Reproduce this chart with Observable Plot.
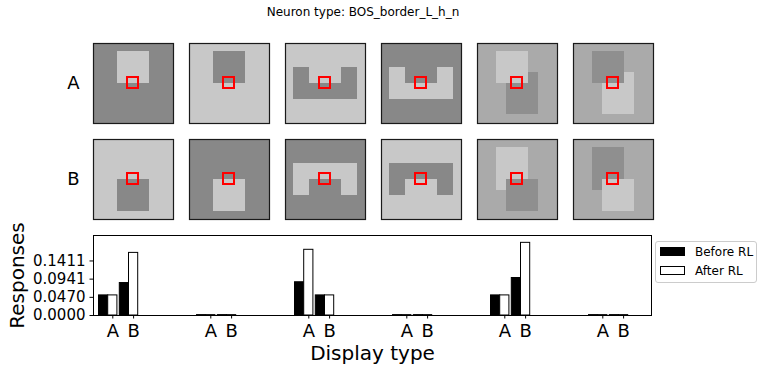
<!DOCTYPE html>
<html>
<head>
<meta charset="utf-8">
<script src="https://cdn.jsdelivr.net/npm/d3@7"></script>
<script src="https://cdn.jsdelivr.net/npm/@observablehq/plot@0.6"></script>
<style>
  body { margin: 0; background: #fff; font-family: "DejaVu Sans", sans-serif; }
  #fig { position: relative; width: 764px; height: 371px; overflow: hidden; background: #fff; }
  #title { position: absolute; left: 0; width: 726px; top: 5px; text-align: center; font-size: 12px; color: #000; }
  #stim { position: absolute; left: 0; top: 43px; }
  #bars { position: absolute; left: 0; top: 225px; }
  #legend { position: absolute; left: 655px; top: 241px; width: 100px; height: 40px; border: 1px solid #cccccc; border-radius: 3px; background: #fff; font-size: 12px; }
  .patch { position: absolute; left: 4px; width: 25px; height: 9px; box-sizing: border-box; border: 1px solid #000; }
  .lab { position: absolute; left: 39px; line-height: 14px; color: #000; }
</style>
</head>
<body>
<div id="fig">
  <div id="title">Neuron type: BOS_border_L_h_n</div>
  <div id="stim"></div>
  <div id="bars"></div>
  <div id="legend">
    <div class="patch" style="top:5px;background:#000;"></div>
    <div class="lab" style="top:3px;">Before RL</div>
    <div class="patch" style="top:24px;background:#fff;"></div>
    <div class="lab" style="top:22px;">After RL</div>
  </div>
</div>
<script>
// ---------- data ----------
const rowLabels = ["A", "B"];
const columns = [0, 1, 2, 3, 4, 5];
const toneColor = { light: "#c8c8c8", dark: "#888888", mid: "#aaaaaa", dim: "#8f8f8f" };

// stimulus rectangles: [row, column, x1, x2, y1, y2, tone] in image units (0..80), drawn in order
const stimRects = [
  ["A",0, 0,80,0,80,"dark"],  ["A",0, 24,56,8,40,"light"],
  ["A",1, 0,80,0,80,"light"], ["A",1, 24,56,8,40,"dark"],
  ["A",2, 0,80,0,80,"light"], ["A",2, 8,72,24,56,"dark"],  ["A",2, 24,56,24,40,"light"],
  ["A",3, 0,80,0,80,"dark"],  ["A",3, 8,72,24,56,"light"], ["A",3, 24,56,24,40,"dark"],
  ["A",4, 0,80,0,80,"mid"],   ["A",4, 29,61,29,71,"dim"],  ["A",4, 19,51,8,40,"light"],
  ["A",5, 0,80,0,80,"mid"],   ["A",5, 29,61,29,71,"light"],["A",5, 19,51,8,40,"dim"],
  ["B",0, 0,80,0,80,"light"], ["B",0, 24,56,40,72,"dark"],
  ["B",1, 0,80,0,80,"dark"],  ["B",1, 24,56,40,72,"light"],
  ["B",2, 0,80,0,80,"dark"],  ["B",2, 8,72,24,56,"light"], ["B",2, 24,56,40,56,"dark"],
  ["B",3, 0,80,0,80,"light"], ["B",3, 8,72,24,56,"dark"],  ["B",3, 24,56,40,56,"light"],
  ["B",4, 0,80,0,80,"mid"],   ["B",4, 19,51,8,51,"light"], ["B",4, 29,61,40,72,"dim"],
  ["B",5, 0,80,0,80,"mid"],   ["B",5, 19,51,8,51,"dim"],   ["B",5, 29,61,40,72,"light"]
];
// receptive field box (image units)
const rfBox = [34, 45, 34, 45];

// responses
const displays = ["A", "B"];
const beforeRL = [0.052, 0.084, 0.001, 0.001, 0.086, 0.052, 0.001, 0.001, 0.052, 0.097, 0.001, 0.001];
const afterRL  = [0.052, 0.162, 0.001, 0.001, 0.170, 0.052, 0.001, 0.001, 0.052, 0.188, 0.001, 0.001];
const yTicks = [0, 0.0470, 0.0941, 0.1411];

// ---------- stimulus panels ----------
const rects = stimRects.map(([row, col, x1, x2, y1, y2, tone]) => ({row, col, x1, x2, y1, y2, tone}));
const cells = rowLabels.flatMap(row => columns.map(col => ({row, col})));

const stim = Plot.plot({
  width: 764, height: 176,
  marginLeft: 93, marginRight: 111, marginTop: 0, marginBottom: 0,
  style: { fontFamily: "DejaVu Sans", fontSize: "18px", color: "black", background: "transparent", overflow: "visible" },
  x: { domain: [0, 80], axis: null },
  y: { domain: [0, 80], reverse: true, axis: null },
  fx: { domain: columns, paddingInner: 1/6, paddingOuter: 0, axis: null },
  fy: { domain: rowLabels, paddingInner: 1/6, paddingOuter: 0, axis: "left", label: null, tickSize: 0, tickPadding: 14 },
  color: { type: "identity" },
  marks: [
    Plot.rect(rects, { x1: "x1", x2: "x2", y1: "y1", y2: "y2", fill: d => toneColor[d.tone], fx: "col", fy: "row" }),
    Plot.rect(cells, { x1: () => rfBox[0], x2: () => rfBox[1], y1: () => rfBox[2], y2: () => rfBox[3],
                       fill: "none", stroke: "red", strokeWidth: 2, fx: "col", fy: "row" }),
    Plot.frame({ stroke: "#1a1a1a", strokeWidth: 1.2 })
  ]
});
document.getElementById("stim").appendChild(stim);

// ---------- bar chart ----------
const groupStep = 4.9, pairStep = 1.04, barW = 0.46;
const positions = [];
const labelAt = new Map();
const bars = [];
beforeRL.forEach((v, i) => {
  const g = Math.floor(i / 2), c = i % 2;
  const t = g * groupStep + c * pairStep;
  positions.push(t);
  labelAt.set(t, displays[c]);
  bars.push({ x1: t - barW * 1.5, x2: t - barW * 0.5, value: v, series: "Before RL" });
  bars.push({ x1: t - barW * 0.5, x2: t + barW * 0.5, value: afterRL[i], series: "After RL" });
});

const chart = Plot.plot({
  width: 764, height: 146,
  marginLeft: 93, marginRight: 113, marginTop: 10, marginBottom: 56,
  style: { fontFamily: "DejaVu Sans", color: "black", background: "transparent", overflow: "visible" },
  x: { domain: [-0.965, 26.935] },
  y: { domain: [0, 0.207] },
  marks: [
    Plot.rect(bars, { x1: "x1", x2: "x2", y1: 0, y2: "value",
                      fill: d => d.series === "Before RL" ? "black" : "white", stroke: "black", strokeWidth: 1 }),
    Plot.frame({ stroke: "black" }),
    Plot.axisY(yTicks, { tickFormat: d3.format(".4f"), fontSize: 15, tickSize: 3.5, tickPadding: 4.5, label: null }),
    Plot.axisX(positions, { tickFormat: d => labelAt.get(d), fontSize: 18, tickSize: 3.5, tickPadding: 5, label: null }),
    Plot.text(["Responses"], { text: d => d, frameAnchor: "left", dx: -76, rotate: -90, fontSize: 20,
                               textAnchor: "middle", lineAnchor: "middle" }),
    Plot.text(["Display type"], { text: d => d, frameAnchor: "bottom", dy: 38, fontSize: 20,
                                  textAnchor: "middle", lineAnchor: "middle" })
  ]
});
document.getElementById("bars").appendChild(chart);
</script>
</body>
</html>
